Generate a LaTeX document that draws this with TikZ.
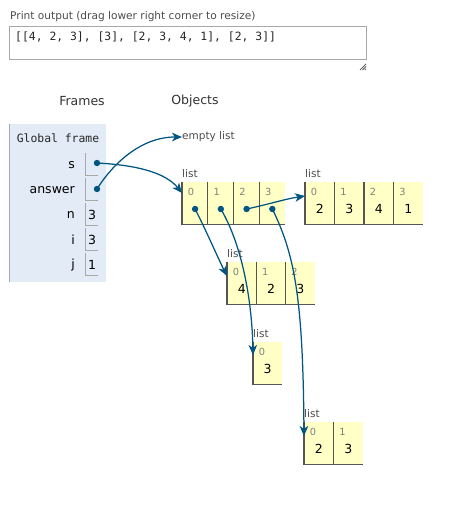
\documentclass[tikz,border=0pt]{standalone}
\usepackage{fontspec}
\setmainfont{DejaVu Sans}
\setmonofont{DejaVu Sans Mono}
\usetikzlibrary{arrows.meta,calc}
\definecolor{arrowc}{HTML}{005583}
\definecolor{framebg}{HTML}{E2EBF6}
\definecolor{cellbg}{HTML}{FFFFC6}
\definecolor{cellline}{HTML}{555555}
\definecolor{boxline}{HTML}{A8A8A8}
\tikzset{
  hdr/.style={font=\fontsize{12.5}{14}\selectfont, text=black!80, inner sep=0},
  small/.style={font=\fontsize{10.6}{12}\selectfont, text=black!70, inner sep=0},
  mono/.style={font=\ttfamily\fontsize{11.4}{13}\selectfont, text=black!85, inner sep=0},
  varname/.style={font=\fontsize{12.5}{14}\selectfont, text=black, inner sep=0, anchor=east},
  vbox/.style={minimum width=12.5pt, minimum height=22pt, inner sep=0, anchor=north west},
  vboxline/.style={draw=boxline, line width=1pt},
  val/.style={font=\fontsize{12.5}{14}\selectfont, text=black, inner sep=0},
  idx/.style={font=\fontsize{9.8}{11}\selectfont, text=black!50, inner sep=0},
  listlbl/.style={font=\fontsize{10.5}{12}\selectfont, text=black!70, inner sep=0},
  cell/.style={fill=cellbg, minimum height=42pt, inner sep=0},
  cellb/.style={draw=cellline, line width=1.4pt},
  dot/.style={circle, fill=arrowc, inner sep=0, minimum size=6.4pt},
  ptr/.style={draw=arrowc, line width=1.25pt, -{Stealth[length=10pt,width=8.5pt,inset=2.8pt]}},
}
\newcommand\pylist[5]{%
  \node[listlbl, anchor=base west] (#1-lbl) at (#2,#3-5) {list};
  \foreach \v [count=\k from 0] in {#5} {
    \node[cell, minimum width=#4pt, anchor=north west] (#1-\k) at ({#2+\k*#4},#3) {};
    \draw[cellb] (#1-\k.north west) -- (#1-\k.south west) -- (#1-\k.south east);
    \node[idx] (#1-\k-i) at ([xshift=9pt,yshift=-10pt]#1-\k.north west) {\k};
    \node[val] (#1-\k-v) at ([yshift=-27pt]#1-\k.north) {\v};
  }
}
\begin{document}
\begin{tikzpicture}[x=1pt,y=-1pt]
\useasboundingbox (0,0) rectangle (463,505);
\fill[white] (0,0) rectangle (463,505);

% print output
\node[small, anchor=west] (ptitle) at (10,17) {Print output (drag lower right corner to resize)};
\node[draw=boxline, line width=1pt, minimum width=357pt, minimum height=33pt, inner sep=0, anchor=north west] (outbox) at (9,26) {};
\node[mono, anchor=west] (outtext) at (15,37) {[[4, 2, 3], [3], [2, 3, 4, 1], [2, 3]]};
\coordinate (grip) at (366,70);
\draw[black!60, line width=0.8pt] ($(grip)+(-6,0)$) -- ($(grip)+(0,-6)$)
  ($(grip)+(-3.5,0)$) -- ($(grip)+(0,-3.5)$)
  ($(grip)+(-1.2,0)$) -- ($(grip)+(0,-1.2)$);

% headers
\node[hdr] (frames) at (82,101) {Frames};
\node[hdr] (objects) at (195,101) {Objects};

% global frame
\node[fill=framebg, minimum width=97pt, minimum height=158pt, inner sep=0, anchor=north west] (gframe) at (9,124) {};
\draw[boxline, line width=1pt] (gframe.north west) -- (gframe.south west);
\node[mono] (gtitle) at (58,138) {Global frame};

\foreach \nm/\y/\lab in {s/153/s, answer/178/answer, n/203/n, i/228/i, j/253/j} {
  \node[vbox] (box-\nm) at (85,\y) {};
  \draw[vboxline] (box-\nm.north west) -- (box-\nm.south west) -- (box-\nm.south east);
  \node[varname] (name-\nm) at (75,\y+12) {\lab};
}
\node[val] (v-n) at (92,215) {3};
\node[val] (v-i) at (92,240) {3};
\node[val] (v-j) at (92,265) {1};
\node[dot] (ds) at (97,163) {};
\node[dot] (da) at (97,189) {};

% objects
\node[listlbl, anchor=west] (empty) at (182,137) {empty list};
\pylist{L1}{182}{182}{25.75}{{},{},{},{}}
\pylist{L2}{305}{182}{29.5}{2,3,4,1}
\pylist{L3}{227}{262}{29.3}{4,2,3}
\pylist{L4}{253}{342}{29}{3}
\pylist{L5}{304}{422}{29.5}{2,3}

\foreach \k in {0,1,2,3} { \node[dot] (d\k) at (L1-\k-v) {}; }

% pointers
\draw[ptr] (ds.center) .. controls (135,165) and (165,172) .. ([yshift=-11pt]L1-0.north west);
\draw[ptr] (da.center) .. controls (112,165) and (140,137) .. (empty.west);
\draw[ptr] (d0.center) .. controls (204,226) and (218,258) .. ([yshift=-14pt]L3-0.north west);
\draw[ptr] (d1.center) .. controls (242,245) and (252,300) .. ([yshift=-13pt]L4-0.north west);
\draw[ptr] (d2.center) .. controls (270,204) and (285,199) .. ([yshift=-14pt]L2-0.north west);
\draw[ptr] (d3.center) .. controls (295,255) and (303,300) .. ([yshift=-14pt]L5-0.north west);
\end{tikzpicture}
\end{document}
